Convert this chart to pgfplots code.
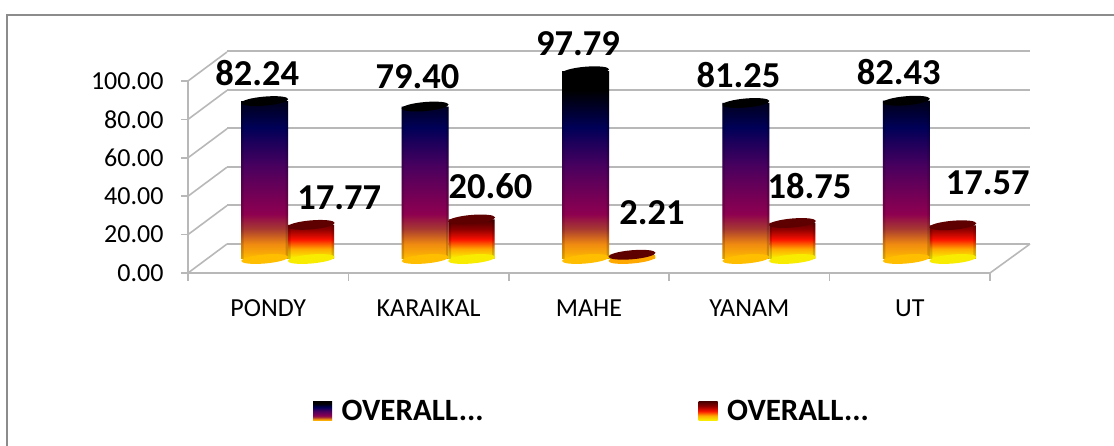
\documentclass[border=0pt]{standalone}
\usepackage{fontspec}
\setmainfont{Carlito}
\usepackage{pgfplots}
\usepackage{pgfplotstable}
\pgfplotsset{compat=1.18}
\definecolor{ta}{HTML}{FFBE00}\definecolor{tb}{HTML}{F08A10}\definecolor{tc}{HTML}{A83A30}
\definecolor{td}{HTML}{8E0050}\definecolor{te}{HTML}{48005F}\definecolor{tf}{HTML}{000058}\definecolor{tg}{HTML}{000000}
\definecolor{sa}{HTML}{F8EC00}\definecolor{sb}{HTML}{FFA800}\definecolor{sc}{HTML}{FA1000}\definecolor{sd}{HTML}{8B0000}\definecolor{se}{HTML}{4A0000}
\definecolor{gridc}{HTML}{B8B8B8}\definecolor{framec}{HTML}{8C8C8C}
\pgfdeclareverticalshading{tallbar}{100bp}{color(0bp)=(ta);color(25bp)=(ta);color(29bp)=(tb);color(33bp)=(tc);color(37bp)=(td);color(50bp)=(te);color(60bp)=(tf);color(70bp)=(tg);color(75bp)=(tg);color(100bp)=(tg)}
\pgfdeclareverticalshading{shortbar}{100bp}{color(0bp)=(sa);color(27bp)=(sa);color(38bp)=(sb);color(50bp)=(sc);color(63bp)=(sd);color(75bp)=(se);color(100bp)=(se)}
\pgfdeclareplotmark{cyl}{\pgfpathellipse{\pgfpointorigin}{\pgfqpoint{23.5pt}{2pt}}{\pgfqpoint{-0.3pt}{4.5pt}}\pgfusepathqfill}
\pgfplotstableread{
x a b dxa dya dxb dyb
0.5 82.24 17.77 -31 28 51 27
1.5 79.40 20.60 -31 30 42 33
2.5 97.79 2.21 -31 28 43 42
3.5 81.25 18.75 -31 28 40 37
4.5 82.43 17.57 -31 29 58 42
}\datatable
\begin{document}
\begin{tikzpicture}[x=1pt,y=1pt]
\path[use as bounding box] (0,0) rectangle (1114,446);
\draw[framec,line width=2pt] (7,0) -- (7,431) -- (1114,431);
% back wall
\begin{axis}[at={(227pt,202pt)},anchor=south west,scale only axis,width=803pt,height=193pt,
  xmin=0,xmax=5,ymin=0,ymax=100,xtick=\empty,ytick={0,20,...,100},yticklabels={},
  axis line style={draw=none},ymajorgrids,grid style={gridc,line width=2pt},major tick length=0pt]
  \addplot[draw=none,forget plot] coordinates {(0,0)(5,100)};
\end{axis}
\foreach \v in {0,38.4,76.8,115.2,153.6,192}{\draw[gridc,line width=1.6pt] (188,173+\v) -- ++(39,29);}
\draw[gridc,line width=1.6pt] (990,173) -- ++(40,29);
% front axes
\begin{axis}[at={(188pt,173pt)},anchor=south west,scale only axis,width=802pt,height=192pt,
  xmin=0,xmax=5,ymin=0,ymax=100,
  axis x line*=bottom,axis y line*=left,axis line style={gridc,line width=2pt,-},
  xtick={0.5,1.5,2.5,3.5,4.5},xticklabels={PONDY,KARAIKAL,MAHE,YANAM,UT},
  minor xtick={0,1,2,3,4,5},
  ytick={0,20,...,100},
  major x tick style={draw=none},
  tick style={gridc,line width=1.5pt},
  minor tick length=8pt,major tick length=7pt,tick align=outside,
  /pgf/number format/assume math mode=true,
  /pgf/number format/fixed,/pgf/number format/fixed zerofill,/pgf/number format/precision=2,
  xticklabel style={font=\fontsize{26}{26}\selectfont,yshift=-16pt,text=black},
  yticklabel style={font=\fontsize{26}{26}\selectfont,xshift=-14pt,text=black}]
  \addplot[draw=none,forget plot] coordinates {(0,0)(5,100)};
\end{axis}
% cylinders
\begin{axis}[at={(208pt,187pt)},anchor=south west,scale only axis,width=802pt,height=192pt,
  xmin=0,xmax=5,ymin=0,ymax=100,hide axis,clip=false,
  legend columns=2,
  legend style={draw=none,fill=none,at={(102pt,-152pt)},anchor=west,
    font=\fontsize{31}{31}\selectfont\bfseries,
    /tikz/every even column/.append style={column sep=213pt},
    /tikz/every odd column/.append style={column sep=7.5pt}},
  legend cell align=left]
  \addplot[ybar,bar width=47pt,bar shift=-23.5pt,draw=none,shade,shading=tallbar,
    legend image code/.code={\path[shade,shading=tallbar] (0pt,-9.5pt) rectangle (19pt,9.5pt);}]
    table[x=x,y=a] {\datatable};
  \addlegendentry{OVERALL...}
  \addplot[forget plot,only marks,mark=cyl,color=ta] table[x expr=\thisrow{x}-0.1465,y expr=0] {\datatable};
  \addplot[forget plot,ybar,bar width=2.5pt,bar shift=-45.75pt,draw=none,fill=black,fill opacity=.15] table[x=x,y=a] {\datatable};
  \addplot[forget plot,ybar,bar width=2.5pt,bar shift=-1.25pt,draw=none,fill=black,fill opacity=.15] table[x=x,y=a] {\datatable};
  \addplot[forget plot,only marks,mark=cyl,color=tg] table[x expr=\thisrow{x}-0.1465,y=a] {\datatable};
  \addplot[forget plot,only marks,mark=cyl,color=sa,skip coords between index={2}{3}] table[x expr=\thisrow{x}+0.1434,y expr=0] {\datatable};
  \addplot[forget plot,only marks,mark=cyl,color=sb] coordinates {(2.6434,0)};
  \addplot[ybar,bar width=46pt,bar shift=23pt,draw=none,shade,shading=shortbar,
    legend image code/.code={\path[shade,shading=shortbar] (0pt,-9.5pt) rectangle (19pt,9.5pt);}]
    table[x=x,y=b] {\datatable};
  \addlegendentry{OVERALL...}
  \addplot[forget plot,ybar,bar width=2.5pt,bar shift=1.25pt,draw=none,fill=black,fill opacity=.15] table[x=x,y=b] {\datatable};
  \addplot[forget plot,ybar,bar width=2.5pt,bar shift=44.75pt,draw=none,fill=black,fill opacity=.15] table[x=x,y=b] {\datatable};
  \addplot[forget plot,only marks,mark=cyl,color=se!70!sd] table[x expr=\thisrow{x}+0.1434,y=b] {\datatable};
  % data labels
  \pgfplotsset{lab/.style={forget plot,draw=none,mark=none,nodes near coords,
    /pgf/number format/assume math mode=true,
    /pgf/number format/fixed,/pgf/number format/fixed zerofill,/pgf/number format/precision=2}}
  \addplot[lab,point meta=explicit,
    visualization depends on={\thisrow{dxa} \as \dxx},
    visualization depends on={\thisrow{dya} \as \dyy},
    nodes near coords style={font=\fontsize{36.5}{36.5}\selectfont\bfseries,anchor=center,inner sep=0pt,xshift=\dxx pt,yshift=\dyy pt,text=black}]
    table[x=x,y=a,meta=a] {\datatable};
  \addplot[lab,point meta=explicit,
    visualization depends on={\thisrow{dxb} \as \dxx},
    visualization depends on={\thisrow{dyb} \as \dyy},
    nodes near coords style={font=\fontsize{36.5}{36.5}\selectfont\bfseries,anchor=center,inner sep=0pt,xshift=\dxx pt,yshift=\dyy pt,text=black}]
    table[x=x,y=b,meta=b] {\datatable};
\end{axis}
\end{tikzpicture}
\end{document}
